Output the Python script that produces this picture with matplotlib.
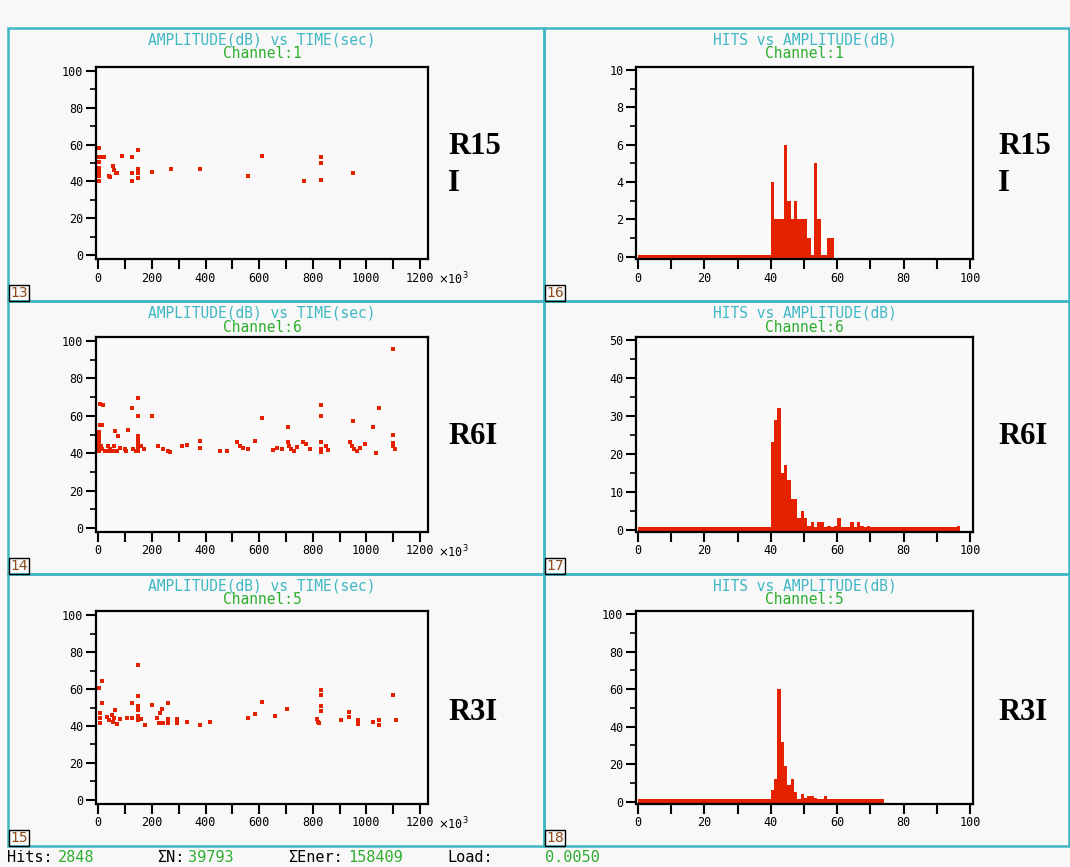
import matplotlib
matplotlib.use("Agg")
import matplotlib.pyplot as plt
import numpy as np
from matplotlib.patches import Rectangle
from matplotlib.ticker import MultipleLocator, FuncFormatter

W, H = 1070, 867
red = '#e52200'
cyan = '#3fb8c4'
green = '#2fae2f'
mono = 'DejaVu Sans Mono'
serif = 'Liberation Serif'

# ---- scatter data: time (x10^3 s) vs amplitude (dB) ----
ch1_time = [2, 2, 10, 20, 2, 2, 2, 2, 2, 40, 45, 56, 60, 66, 70, 90, 124, 124, 124,
            149, 149, 149, 149, 199, 271, 379, 560, 611, 767, 830, 830, 830, 951]
ch1_amp = [58, 53, 53, 53, 50.5, 47.5, 45, 43, 40, 43, 42.6, 48.5, 46, 44.5, 44.5, 54, 53, 44.5, 40,
           57, 46.5, 44.5, 42, 45, 47, 47, 43, 54, 40, 53, 50, 41, 44.5]

ch6_time = [6, 16, 5, 12, 2, 2, 2, 2, 2, 2, 2, 10, 15, 25, 35, 40, 45, 55, 60, 70, 62,
            75, 80, 100, 105, 112, 124, 130, 140, 149, 149, 149, 149, 149, 149, 149, 160, 170,
            199, 224, 240, 260, 267, 311, 332, 379, 379, 454, 479, 516, 530, 540, 560, 585,
            611, 653, 665, 684, 709, 709, 712, 720, 730, 740, 765, 775, 790, 830, 830, 830,
            830, 830, 850, 858, 939, 945, 955, 965, 975, 995, 951, 1024, 1036, 1048,
            1098, 1098, 1098, 1100, 1107]
ch6_amp = [66.5, 66, 55, 55, 51.5, 50, 47.5, 46, 44, 42.5, 41, 44, 42, 41, 44, 41, 42, 41, 44, 41, 52,
           49, 43, 42, 41, 52.5, 64, 42, 41, 69.3, 60, 49, 47, 45, 43, 41, 44, 42,
           60, 44, 42, 41, 40.5, 44, 44.5, 46.5, 43, 41.2, 41.2, 46, 44, 43, 42, 46.5,
           59, 41.5, 43, 42, 54, 46, 44, 42, 41, 43.5, 46, 45, 42, 66, 60, 46, 42,
           40.5, 44, 41.5, 46, 44, 42.5, 41, 43, 45, 57, 54, 40, 64,
           96, 50, 45.5, 44, 42]

ch5_time = [2, 15, 15, 6, 6, 6, 31, 40, 50, 55, 60, 70, 81, 62, 124, 106, 124, 149,
            149, 149, 149, 149, 149, 160, 174, 199, 218, 225, 232, 242, 236, 261, 261, 261,
            292, 292, 330, 379, 417, 560, 586, 611, 659, 705, 815, 820, 825, 830, 830, 830,
            830, 904, 937, 937, 970, 967, 1024, 1048, 1048, 1098, 1111]
ch5_amp = [60.4, 64.3, 52.3, 47, 44.3, 41.6, 45, 43, 46, 42, 44.5, 41, 44, 48.8, 52.3, 44.3, 44.3, 73.2,
           56.3, 51, 48.8, 45.2, 43.4, 44, 40.7, 51.4, 44.5, 41.5, 47, 41.5, 49, 52.3, 44, 41.6,
           44, 41.6, 42, 40.4, 42, 44.3, 46.4, 53.2, 45.5, 49, 44, 42, 41.6, 59.5, 56.8, 50.9,
           47.9, 43.4, 47.3, 44.6, 43, 41, 42, 43, 40.4, 57, 43]

# ---- histogram data: hits per 1 dB bin ----
ch1_db = [40, 41, 42, 43, 44, 45, 46, 47, 48, 49, 50, 51, 52, 53, 54, 55, 56, 57, 58]
ch1_hits = [4, 2, 2, 2, 6, 3, 2, 3, 2, 2, 2, 1, 0, 5, 2, 0, 0, 1, 1]

ch6_db = [40, 41, 42, 43, 44, 45, 46, 47, 48, 49, 50, 51, 52, 53, 54, 55, 56, 57, 58, 59,
          60, 64, 66, 67, 69, 96]
ch6_hits = [23, 29, 32, 15, 17, 13, 8, 8, 3, 5, 3, 1, 2, 0, 2, 2, 0, 1, 0, 1,
            3, 2, 2, 1, 1, 1]

ch5_db = [40, 41, 42, 43, 44, 45, 46, 47, 48, 49, 50, 51, 52, 53, 54, 55, 56, 57, 58, 59,
          60, 61, 64, 73]
ch5_hits = [6, 12, 60, 32, 19, 9, 12, 5, 0, 4, 2, 3, 3, 2, 1, 1, 3, 1, 1, 1,
            1, 1, 1, 1]

channels = [1, 6, 5]
labels = ['R15\nI', 'R6I', 'R3I']
scatter_sets = [(ch1_time, ch1_amp), (ch6_time, ch6_amp), (ch5_time, ch5_amp)]
hist_sets = [(ch1_db, ch1_hits), (ch6_db, ch6_hits), (ch5_db, ch5_hits)]
hist_ymax = [10, 50, 100]
panel_nums = [(13, 16), (14, 17), (15, 18)]

# pixel layout (top, bottom) of each row of axes, and of the panel frames
axes_rows = [(67, 259), (337, 532), (611, 804)]
frame_rows = [(28, 301), (301, 574), (574, 846)]
label_y = [165, 436, 713]
left_x = (96, 428)
right_x = (636, 973)


def fig_rect(x0, x1, y0, y1):
    return [x0 / W, 1 - y1 / H, (x1 - x0) / W, (y1 - y0) / H]


def style_axes(ax):
    for s in ax.spines.values():
        s.set_linewidth(1.6)
        s.set_color('black')
    ax.set_facecolor('#fafafa')
    ax.tick_params(which='major', direction='out', length=7, width=1.5,
                   labelsize=8.5, pad=2)
    ax.tick_params(which='minor', direction='out', length=4, width=1.2)
    ax.tick_params(axis='x', which='minor', length=0)
    for lab in ax.get_xticklabels() + ax.get_yticklabels():
        lab.set_family(mono)


fig = plt.figure(figsize=(W / 100, H / 100), dpi=100)
fig.patch.set_facecolor('#f8f8f8')

# panel frames
for (y0, y1) in frame_rows:
    for (x0, x1) in [(8, 544), (544, 1069)]:
        fig.add_artist(Rectangle((x0 / W, 1 - y1 / H), (x1 - x0) / W, (y1 - y0) / H,
                                 transform=fig.transFigure, fill=False,
                                 edgecolor=cyan, linewidth=1.8))

for row in range(3):
    ya, yb = axes_rows[row]
    fy0, fy1 = frame_rows[row]
    ch = channels[row]

    # ---- amplitude vs time ----
    ax = fig.add_axes(fig_rect(left_x[0], left_x[1], ya, yb))
    t, a = scatter_sets[row]
    ax.plot(t, a, linestyle='none', marker='s', markersize=2.4,
            color=red, markeredgewidth=0)
    ax.set_xlim(-8.6, 1230)
    ax.set_ylim(-2.2, 102.2)
    ax.xaxis.set_major_locator(MultipleLocator(100))
    ax.xaxis.set_major_formatter(FuncFormatter(
        lambda v, p: f'{int(round(v))}' if int(round(v)) % 200 == 0 else ''))
    ax.yaxis.set_major_locator(MultipleLocator(20))
    ax.yaxis.set_minor_locator(MultipleLocator(10))
    style_axes(ax)
    ax.text(1.03, -0.06, r'$\times$10$^3$', transform=ax.transAxes, fontsize=8.5,
            family=mono, ha='left', va='top')

    # ---- hits vs amplitude ----
    ax2 = fig.add_axes(fig_rect(right_x[0], right_x[1], ya, yb))
    db, hits = hist_sets[row]
    ymax = hist_ymax[row]
    counts = np.zeros(db[-1] + 1)
    counts[np.array(db)] = hits
    ymin = -0.012 * ymax
    tops = np.maximum(counts, 0.012 * ymax)
    ax2.bar(np.arange(len(counts)), tops - ymin, bottom=ymin, width=1.0,
            align='edge', color=red, linewidth=0)
    ax2.set_xlim(-0.6, 100.9)
    ax2.set_ylim(ymin, ymax * 1.016)
    ax2.xaxis.set_major_locator(MultipleLocator(10))
    ax2.xaxis.set_major_formatter(FuncFormatter(
        lambda v, p: f'{int(round(v))}' if int(round(v)) % 20 == 0 else ''))
    ax2.yaxis.set_major_locator(MultipleLocator(ymax / 5))
    ax2.yaxis.set_minor_locator(MultipleLocator(ymax / 10))
    style_axes(ax2)

    # titles
    for (x0, x1), title in [(left_x, 'AMPLITUDE(dB) vs TIME(sec)'),
                            (right_x, 'HITS vs AMPLITUDE(dB)')]:
        cx = (x0 + x1) / 2 / W
        fig.text(cx, 1 - (fy0 + 12) / H, title, color=cyan, family=mono,
                 fontsize=10.5, ha='center', va='center')
        fig.text(cx, 1 - (fy0 + 26) / H, f'Channel:{ch}', color=green, family=mono,
                 fontsize=10.5, ha='center', va='center')

    # specimen labels
    for xpos in [448, 998]:
        fig.text(xpos / W, 1 - label_y[row] / H, labels[row], family=serif,
                 fontweight='bold', fontsize=22, ha='left', va='center',
                 linespacing=1.35)

    # panel numbers
    for xpos, num in zip([10, 546], panel_nums[row]):
        fig.text(xpos / W, 1 - (fy1 - 8) / H, str(num), color='#8a4a1a',
                 family='DejaVu Sans', fontsize=10, ha='left', va='center',
                 bbox=dict(boxstyle='square,pad=0.1', facecolor='none',
                           edgecolor='black', linewidth=1))

# footer status line
footer = [('Hits:', 7, 'black'), ('2848', 58, green),
          ('\u03a3N:', 157, 'black'), ('39793', 188, green),
          ('\u03a3Ener:', 288, 'black'), ('158409', 348, green),
          ('Load:', 447, 'black'), ('0.0050', 545, green)]
for txt, xp, col in footer:
    fig.text(xp / W, 1 - 858 / H, txt, color=col, family=mono, fontsize=11,
             ha='left', va='center')

fig.savefig('out.png', dpi=100, facecolor=fig.get_facecolor())
